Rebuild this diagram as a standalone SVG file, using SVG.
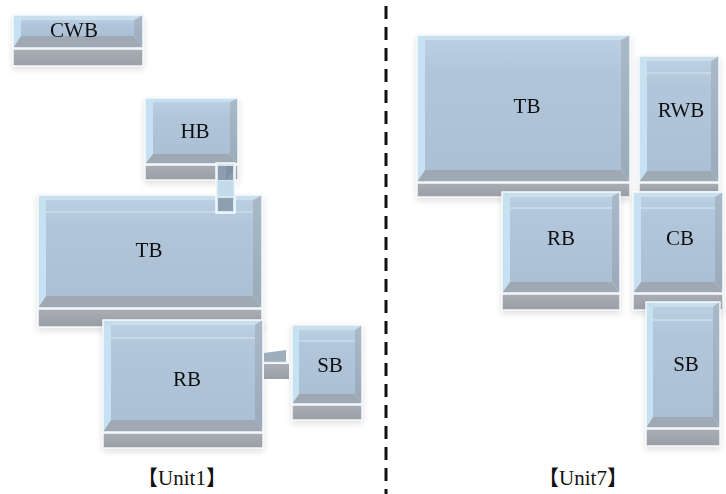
<svg xmlns="http://www.w3.org/2000/svg" width="726" height="494" viewBox="0 0 726 494">
  <defs>
    <linearGradient id="faceGrad" x1="0" y1="0" x2="0" y2="1">
      <stop offset="0" stop-color="#BACFE2"/>
      <stop offset="0.25" stop-color="#B1C6DA"/>
      <stop offset="1" stop-color="#ABC0D4"/>
    </linearGradient>
    <linearGradient id="slabGrad" x1="0" y1="0" x2="0" y2="1">
      <stop offset="0" stop-color="#A9ADB4"/>
      <stop offset="1" stop-color="#9A9FA7"/>
    </linearGradient>
    <linearGradient id="rightGrad" x1="0" y1="0" x2="0" y2="1">
      <stop offset="0" stop-color="#A9B9C8"/>
      <stop offset="1" stop-color="#9AAABA"/>
    </linearGradient>
    <filter id="soft" x="-10%" y="-10%" width="120%" height="130%">
      <feDropShadow dx="0" dy="3" stdDeviation="3" flood-color="#000" flood-opacity="0.12"/>
    </filter>
    <style>
      .inner { fill: url(#faceGrad); }
      .top { fill: #CADFEE; }
      .left { fill: #C6E2F2; }
      .right { fill: url(#rightGrad); }
      .bot { fill: #9EA9B4; }
      .edge { fill: none; stroke: #F4FAFD; stroke-width: 1.5; }
      .slab { fill: url(#slabGrad); stroke: #F6F8FA; stroke-width: 1.5; }
      .hl { stroke: #E2EEF6; stroke-width: 1.2; opacity: 0.8; }
      .lbl { font-size: 21px; fill: #111; text-anchor: middle; }
      .unit { font-size: 21px; fill: #111; text-anchor: middle; }
      .divider { stroke: #111; stroke-width: 3; stroke-dasharray: 13 8; }
    </style>
  </defs>

  <rect width="726" height="494" fill="#FFFFFF"/>

  <g font-family="'Liberation Serif', 'DejaVu Serif', 'Noto Sans CJK SC', serif">
  <!-- Unit1 -->
  <g id="CWB" filter="url(#soft)">
    <rect class="slab" x="13" y="49" width="130" height="17"/>
    <polygon class="top" points="13,15 143,15 134,20 21,20"/>
    <polygon class="left" points="13,15 21,20 21,36 13,48"/>
    <polygon class="right" points="143,15 143,48 134,36 134,20"/>
    <polygon class="bot" points="13,48 143,48 134,36 21,36"/>
    <rect class="inner" x="21" y="20" width="113" height="16"/>
    <rect class="edge" x="13" y="15" width="130" height="33"/>
    <text class="lbl" x="74" y="37">CWB</text>
  </g>

  <g id="HB" filter="url(#soft)">
    <rect class="slab" x="145" y="165" width="93" height="15"/>
    <polygon class="top" points="145,98 238,98 230,102 153,102"/>
    <polygon class="left" points="145,98 153,102 153,154 145,164"/>
    <polygon class="right" points="238,98 238,164 230,154 230,102"/>
    <polygon class="bot" points="145,164 238,164 230,154 153,154"/>
    <rect class="inner" x="153" y="102" width="77" height="52"/>
    <rect class="edge" x="145" y="98" width="93" height="66"/>
    <text class="lbl" x="195" y="138">HB</text>
  </g>

  <g id="TB1" filter="url(#soft)">
    <rect class="slab" x="38" y="309" width="224" height="18"/>
    <polygon class="top" points="38,195 262,195 253,200 46,200"/>
    <polygon class="left" points="38,195 46,200 46,296 38,308"/>
    <polygon class="right" points="262,195 262,308 253,296 253,200"/>
    <polygon class="bot" points="38,308 262,308 253,296 46,296"/>
    <rect class="inner" x="46" y="200" width="207" height="96"/>
    <line class="hl" x1="46" y1="212" x2="253" y2="212"/>
    <rect class="edge" x="38" y="195" width="224" height="113"/>
    <text class="lbl" x="149" y="257">TB</text>
  </g>

  <g id="RB1" filter="url(#soft)">
    <rect class="slab" x="103" y="433" width="160" height="15"/>
    <polygon class="top" points="103,320 263,320 255,325 111,325"/>
    <polygon class="left" points="103,320 111,325 111,420 103,432"/>
    <polygon class="right" points="263,320 263,432 255,420 255,325"/>
    <polygon class="bot" points="103,432 263,432 255,420 111,420"/>
    <rect class="inner" x="111" y="325" width="144" height="95"/>
    <line class="hl" x1="111" y1="338" x2="255" y2="338"/>
    <rect class="edge" x="103" y="320" width="160" height="112"/>
    <text class="lbl" x="187" y="386">RB</text>
  </g>

  <g id="SB1" filter="url(#soft)">
    <rect class="slab" x="292" y="405" width="70" height="15"/>
    <polygon class="top" points="292,325 362,325 355,330 299,330"/>
    <polygon class="left" points="292,325 299,330 299,394 292,404"/>
    <polygon class="right" points="362,325 362,404 355,394 355,330"/>
    <polygon class="bot" points="292,404 362,404 355,394 299,394"/>
    <rect class="inner" x="299" y="330" width="56" height="64"/>
    <line class="hl" x1="299" y1="341" x2="355" y2="341"/>
    <rect class="edge" x="292" y="325" width="70" height="79"/>
    <text class="lbl" x="330" y="372">SB</text>
  </g>

  <!-- Unit7 -->
  <g id="TB7" filter="url(#soft)">
    <rect class="slab" x="417" y="183" width="213" height="14"/>
    <polygon class="top" points="417,35 630,35 621,40 425,40"/>
    <polygon class="left" points="417,35 425,40 425,170 417,182"/>
    <polygon class="right" points="630,35 630,182 621,170 621,40"/>
    <polygon class="bot" points="417,182 630,182 621,170 425,170"/>
    <rect class="inner" x="425" y="40" width="196" height="130"/>
    <rect class="edge" x="417" y="35" width="213" height="147"/>
    <text class="lbl" x="527" y="113">TB</text>
  </g>

  <g id="RWB" filter="url(#soft)">
    <rect class="slab" x="639" y="183" width="80" height="9"/>
    <polygon class="top" points="639,56 719,56 711,61 647,61"/>
    <polygon class="left" points="639,56 647,61 647,171 639,182"/>
    <polygon class="right" points="719,56 719,182 711,171 711,61"/>
    <polygon class="bot" points="639,182 719,182 711,171 647,171"/>
    <rect class="inner" x="647" y="61" width="64" height="110"/>
    <line class="hl" x1="647" y1="73" x2="711" y2="73"/>
    <rect class="edge" x="639" y="56" width="80" height="126"/>
    <text class="lbl" x="681" y="117">RWB</text>
  </g>

  <g id="RB7" filter="url(#soft)">
    <rect class="slab" x="502" y="294" width="118" height="16"/>
    <polygon class="top" points="502,192 620,192 612,197 510,197"/>
    <polygon class="left" points="502,192 510,197 510,282 502,293"/>
    <polygon class="right" points="620,192 620,293 612,282 612,197"/>
    <polygon class="bot" points="502,293 620,293 612,282 510,282"/>
    <rect class="inner" x="510" y="197" width="102" height="85"/>
    <line class="hl" x1="510" y1="208" x2="612" y2="208"/>
    <rect class="edge" x="502" y="192" width="118" height="101"/>
    <text class="lbl" x="561" y="245">RB</text>
  </g>

  <g id="CB" filter="url(#soft)">
    <rect class="slab" x="633" y="294" width="90" height="16"/>
    <polygon class="top" points="633,192 723,192 715,197 641,197"/>
    <polygon class="left" points="633,192 641,197 641,282 633,293"/>
    <polygon class="right" points="723,192 723,293 715,282 715,197"/>
    <polygon class="bot" points="633,293 723,293 715,282 641,282"/>
    <rect class="inner" x="641" y="197" width="74" height="85"/>
    <line class="hl" x1="641" y1="208" x2="715" y2="208"/>
    <rect class="edge" x="633" y="192" width="90" height="101"/>
    <text class="lbl" x="680" y="245">CB</text>
  </g>

  <g id="SB7" filter="url(#soft)">
    <rect class="slab" x="646" y="429" width="74" height="17"/>
    <polygon class="top" points="646,302 720,302 713,307 653,307"/>
    <polygon class="left" points="646,302 653,307 653,417 646,428"/>
    <polygon class="right" points="720,302 720,428 713,417 713,307"/>
    <polygon class="bot" points="646,428 720,428 713,417 653,417"/>
    <rect class="inner" x="653" y="307" width="60" height="110"/>
    <line class="hl" x1="653" y1="320" x2="713" y2="320"/>
    <rect class="edge" x="646" y="302" width="74" height="126"/>
    <text class="lbl" x="686" y="371">SB</text>
  </g>

  <!-- links between blocks -->
  <g id="connectors">
    <g id="link-HB-TB">
      <rect x="216" y="163" width="19" height="50" fill="#D6E6F1" stroke="#F4FAFD" stroke-width="1.5"/>
      <polygon points="218,166 233,166 233,180 218,180" fill="#8D9DAD"/>
      <polygon points="226,166 233,166 233,172 226,180" fill="#7F91A3"/>
      <rect x="218" y="181" width="15" height="15" fill="#C3DAEA"/>
      <rect x="218" y="198" width="15" height="13" fill="#8E9FAF"/>
    </g>
    <g id="link-RB-SB">
      <polygon points="264,353 286,350 286,362 264,362" fill="#9FAEBD"/>
      <line x1="264" y1="362.5" x2="289" y2="362.5" stroke="#E8EEF3" stroke-width="1.5"/>
      <rect x="264" y="364" width="25" height="15" fill="url(#slabGrad)"/>
    </g>
  </g>

  <!-- divider between the two units -->
  <line class="divider" x1="386" y1="6" x2="386" y2="494"/>

  <text class="unit" x="182" y="485">【Unit1】</text>
  <text class="unit" x="583" y="485">【Unit7】</text>
  </g>
</svg>
